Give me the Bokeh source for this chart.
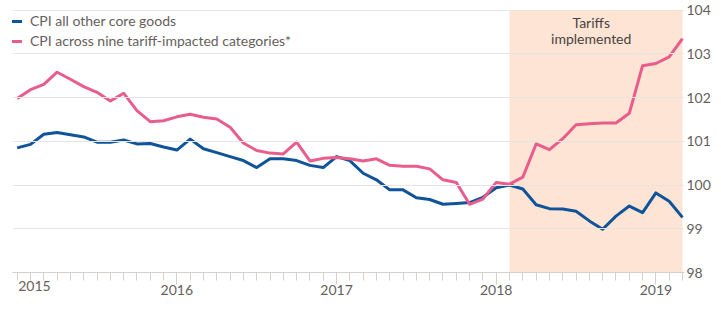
from bokeh.plotting import figure
from bokeh.models import (ColumnDataSource, FixedTicker, LinearAxis, Range1d,
                          Legend, LegendItem)
from bokeh.core.properties import value
from bokeh.embed import file_html
from bokeh.resources import INLINE

# ---- data (monthly, Jan 2015 .. Mar 2019) ----
months = ["2015-01", "2015-02", "2015-03", "2015-04", "2015-05", "2015-06", "2015-07", "2015-08",
          "2015-09", "2015-10", "2015-11", "2015-12", "2016-01", "2016-02", "2016-03", "2016-04",
          "2016-05", "2016-06", "2016-07", "2016-08", "2016-09", "2016-10", "2016-11", "2016-12",
          "2017-01", "2017-02", "2017-03", "2017-04", "2017-05", "2017-06", "2017-07", "2017-08",
          "2017-09", "2017-10", "2017-11", "2017-12", "2018-01", "2018-02", "2018-03", "2018-04",
          "2018-05", "2018-06", "2018-07", "2018-08", "2018-09", "2018-10", "2018-11", "2018-12",
          "2019-01", "2019-02", "2019-03"]

core_goods = [100.85, 100.93, 101.16, 101.20, 101.15, 101.10, 100.98, 100.98, 101.03, 100.94,
              100.95, 100.87, 100.80, 101.05, 100.83, 100.74, 100.65, 100.56, 100.40, 100.60,
              100.60, 100.56, 100.45, 100.40, 100.65, 100.56, 100.27, 100.12, 99.89, 99.89,
              99.71, 99.67, 99.56, 99.58, 99.60, 99.72, 99.94, 100.00, 99.91, 99.55,
              99.46, 99.45, 99.40, 99.18, 98.99, 99.29, 99.52, 99.37, 99.82, 99.63, 99.26]

tariff_cats = [101.98, 102.18, 102.30, 102.58, 102.42, 102.25, 102.12, 101.92, 102.10, 101.70,
               101.45, 101.47, 101.56, 101.62, 101.55, 101.51, 101.32, 100.96, 100.79, 100.73,
               100.71, 100.98, 100.55, 100.61, 100.63, 100.60, 100.55, 100.60, 100.45, 100.43,
               100.43, 100.37, 100.12, 100.06, 99.56, 99.68, 100.06, 100.02, 100.18, 100.94,
               100.81, 101.06, 101.38, 101.40, 101.42, 101.42, 101.64, 102.73, 102.78, 102.93,
               103.35]

series_names = ["CPI all other core goods", "CPI across nine tariff-impacted categories*"]
series_colors = ["#0f5499", "#e95d8c"]

year_ticks = [12, 24, 36, 48]                 # January of each year (month index)
year_labels = ["2016", "2017", "2018", "2019"]
first_year_pos = [1.3]                        # first label, nudged inside the chart
first_year_label = ["2015"]
y_ticks = [98, 99, 100, 101, 102, 103, 104]

tariff_start = 37   # Feb 2018 (month index)
tariff_end = 50     # Mar 2019
tariff_text = ["Tariffs", "implemented"]
tariff_text_x = [43.14, 43.14]
tariff_text_y = [103.72, 103.34]

x = list(range(len(months)))
src = ColumnDataSource(dict(x=x, core=core_goods, tariff=tariff_cats))

FONT = "Lato"
GREY = "#66605c"
AXIS = "#d3d0cd"

p = figure(width=713, height=301, output_backend="svg", toolbar_location=None,
           x_range=Range1d(-0.352, 50.15), y_range=Range1d(98, 104.22),
           x_axis_location=None, y_axis_location="right",
           min_border_left=12, min_border_right=27, min_border_top=0, min_border_bottom=29)
p.outline_line_color = None
p.background_fill_color = "white"
p.border_fill_color = "white"

# shaded tariff period
p.quad(left=[tariff_start], right=[tariff_end], bottom=[y_ticks[0]], top=[y_ticks[-1]],
       fill_color="#fde4d5", line_color=None, level="underlay")

# grid
p.xgrid.visible = False
p.ygrid.ticker = FixedTicker(ticks=y_ticks)
p.ygrid.grid_line_color = "#e8e4e0"
p.ygrid.grid_line_width = 1
p.ygrid.level = "glyph"

# lines
r1 = p.line("x", "core", source=src, line_color=series_colors[0], line_width=3,
            line_join="round")
r2 = p.line("x", "tariff", source=src, line_color=series_colors[1], line_width=3,
            line_join="round")

# annotation text
p.text(x=tariff_text_x, y=tariff_text_y, text=tariff_text, text_align="center",
       text_baseline="middle", text_font=value(FONT), text_font_size="14px",
       text_font_style="normal", text_color="#48433f")

# right y axis
ya = p.yaxis[0]
ya.ticker = FixedTicker(ticks=y_ticks)
ya.axis_line_color = None
ya.major_tick_line_color = None
ya.minor_tick_line_color = None
ya.major_tick_in = 0
ya.major_tick_out = 0
ya.minor_tick_in = 0
ya.minor_tick_out = 0
ya.axis_label_standoff = 0
ya.major_label_text_font = FONT
ya.major_label_text_font_size = "14px"
ya.major_label_text_color = GREY
ya.major_label_standoff = 2

# bottom axis: monthly ticks, long ticks + labels at each January
xa = LinearAxis(ticker=FixedTicker(ticks=year_ticks, minor_ticks=x),
                axis_line_color=AXIS, major_tick_line_color=AXIS,
                minor_tick_line_color=AXIS,
                major_tick_in=0, major_tick_out=12, minor_tick_in=0, minor_tick_out=8,
                major_label_overrides={k: v for k, v in zip(year_ticks, year_labels)},
                major_label_text_font=FONT, major_label_text_font_size="14px",
                major_label_text_color=GREY, major_label_standoff=0,
                axis_label_standoff=0)
# first year label, nudged right so it is not cut at the left edge
xa_first = LinearAxis(ticker=FixedTicker(ticks=first_year_pos, minor_ticks=[]),
                      axis_line_color=None, major_tick_line_color=None,
                      minor_tick_line_color=None, major_tick_in=0, major_tick_out=0,
                      minor_tick_in=0, minor_tick_out=0, axis_label_standoff=0,
                      major_label_overrides={k: v for k, v in zip(first_year_pos, first_year_label)},
                      major_label_text_font=FONT, major_label_text_font_size="14px",
                      major_label_text_color=GREY, major_label_standoff=-17)
p.add_layout(xa, "below")
p.add_layout(xa_first, "below")

# legend
legend = Legend(items=[LegendItem(label=series_names[0], renderers=[r1]),
                       LegendItem(label=series_names[1], renderers=[r2])],
                location=(-7, 223), orientation="vertical",
                label_text_font=FONT, label_text_font_size="14px", label_text_color=GREY,
                glyph_width=17, glyph_height=16, label_height=16, label_standoff=8,
                spacing=3, padding=3, margin=0,
                background_fill_alpha=0, border_line_color=None)
p.add_layout(legend)

open("out.html", "w").write(file_html(p, INLINE))
